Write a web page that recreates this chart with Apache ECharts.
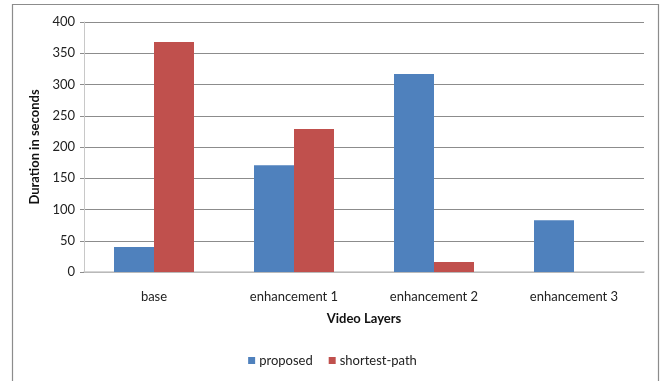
<!DOCTYPE html>
<html>
<head>
<meta charset="utf-8">
<script src="https://cdn.jsdelivr.net/npm/echarts@6/dist/echarts.min.js"></script>
<style>
  html, body { margin: 0; padding: 0; background: #fff; }
  #chart { width: 665px; height: 381px; }
</style>
</head>
<body>
<div id="chart"></div>
<script>
// Duration per video layer for the two routing strategies
const categories = ['base', 'enhancement 1', 'enhancement 2', 'enhancement 3'];
const proposed = [40, 171, 317, 83];
const shortestPath = [368, 229, 16, 0];
const yTicks = [0, 50, 100, 150, 200, 250, 300, 350, 400];

const FONT = 'Lato, "Open Sans", sans-serif';

const chart = echarts.init(document.getElementById('chart'), null, { renderer: 'canvas' });
chart.setOption({
  animation: false,
  backgroundColor: '#ffffff',
  graphic: [{
    type: 'rect',
    shape: { x: 12.5, y: 4.5, width: 646, height: 420 },
    style: { fill: 'none', stroke: '#8c8c8c', lineWidth: 1.2 },
    silent: true
  }],
  grid: { left: 84, right: 21, top: 22, height: 250 },
  legend: {
    bottom: 9,
    left: 'center',
    itemWidth: 7,
    itemHeight: 7,
    itemGap: 16,
    icon: 'rect',
    textStyle: { fontFamily: FONT, fontSize: 13, color: '#222', padding: [0, 0, 0, -1] },
    data: ['proposed', 'shortest-path']
  },
  xAxis: {
    type: 'category',
    data: categories,
    name: 'Video Layers',
    nameLocation: 'middle',
    nameGap: 40,
    nameTextStyle: { fontFamily: FONT, fontSize: 13, fontWeight: 'bold', color: '#111' },
    axisLine: { lineStyle: { color: '#c8c8c8', width: 1.5 } },
    axisTick: { show: false },
    axisLabel: { fontFamily: FONT, fontSize: 13, color: '#222', margin: 18 }
  },
  yAxis: {
    type: 'value',
    min: yTicks[0],
    max: yTicks[yTicks.length - 1],
    interval: yTicks[1] - yTicks[0],
    name: 'Duration in seconds',
    nameLocation: 'middle',
    nameGap: 37,
    nameTextStyle: { fontFamily: FONT, fontSize: 13, fontWeight: 'bold', color: '#111' },
    axisLine: { show: true, lineStyle: { color: '#c8c8c8' } },
    axisTick: { show: true, length: 4, lineStyle: { color: '#8c8c8c' } },
    axisLabel: { fontFamily: FONT, fontSize: 13, color: '#222', margin: 9 },
    splitLine: { lineStyle: { color: '#8c8c8c', width: 1 } }
  },
  series: [
    {
      name: 'proposed',
      type: 'bar',
      data: proposed,
      barWidth: 40,
      barGap: '0%',
      itemStyle: { color: '#4f81bd' }
    },
    {
      name: 'shortest-path',
      type: 'bar',
      data: shortestPath,
      barWidth: 40,
      barGap: '0%',
      itemStyle: { color: '#c0504d' }
    }
  ]
});
</script>
</body>
</html>
